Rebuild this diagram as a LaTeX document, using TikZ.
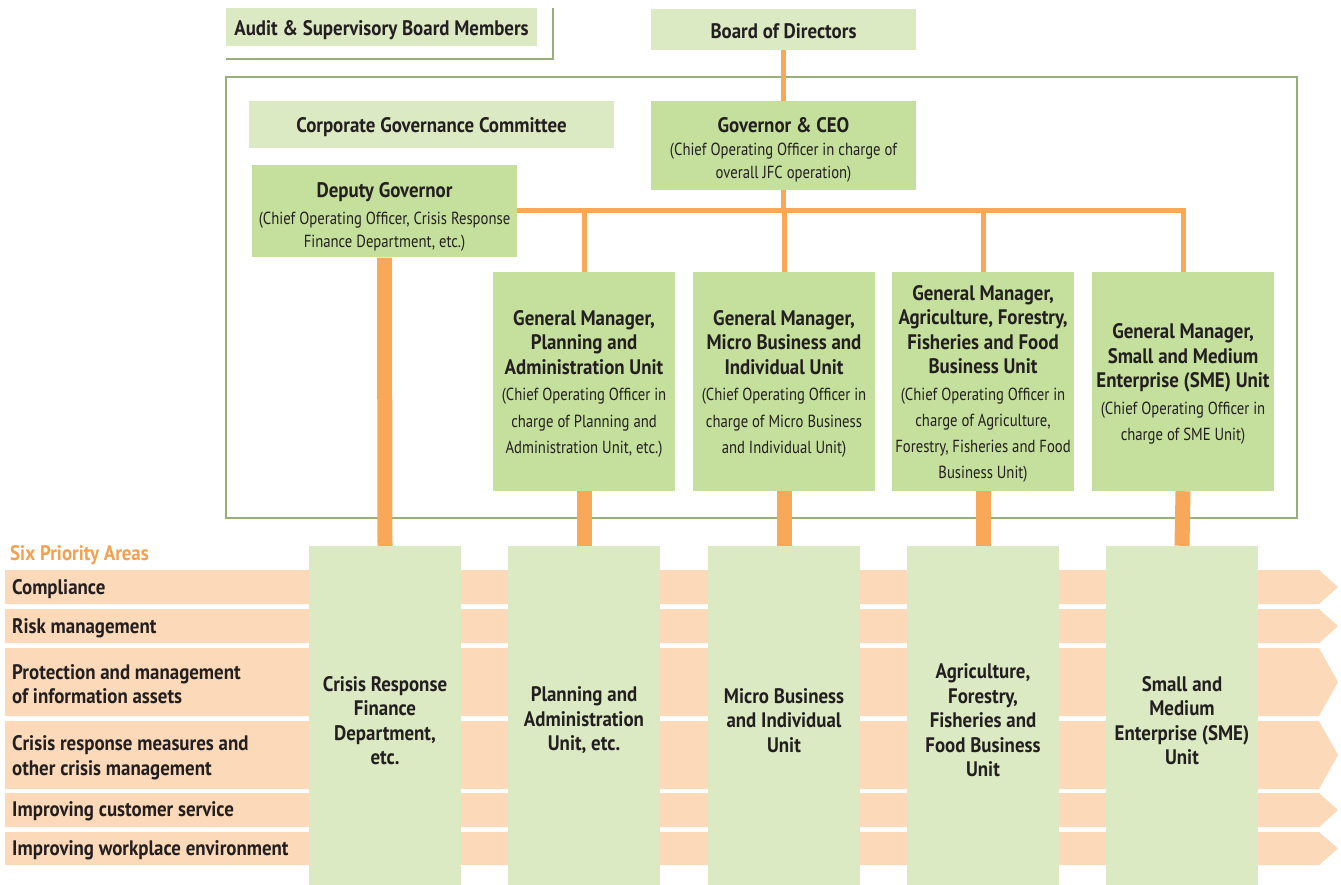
\documentclass[tikz,border=0pt]{standalone}
\usepackage{fontspec}
\setmainfont{PT Sans}[UprightFeatures={FakeStretch=0.84}, BoldFeatures={FakeStretch=0.9}]
\definecolor{lgreen}{HTML}{DCEAC3}
\definecolor{mgreen}{HTML}{C5DF9C}
\definecolor{ogreen}{HTML}{97AF78}
\definecolor{orng}{HTML}{F9A85A}
\definecolor{peach}{HTML}{FCD9B8}
\definecolor{txt}{HTML}{231F20}
\definecolor{otxt}{HTML}{F5A04F}
\newcommand{\bigb}{\fontsize{21}{24.5}\selectfont\bfseries}
\newcommand{\smallr}{\fontsize{17.5}{26.5}\selectfont\mdseries}
\begin{document}
\begin{tikzpicture}[x=1pt,y=-1pt,
  lbox/.style={fill=lgreen, inner sep=0pt},
  mbox/.style={fill=mgreen, inner sep=0pt},
  col/.style={fill=lgreen, inner sep=0pt, minimum width=152pt, minimum height=339pt},
  gm/.style={mbox, minimum width=182pt, minimum height=219pt},
  tlab/.style={inner sep=0pt, align=center, text=txt, font=\bigb},
  rowlab/.style={anchor=west, inner sep=0pt, align=left, text=txt, font=\bigb},
  bus/.style={draw=orng, line width=5pt, line join=miter},
  tconn/.style={draw=orng, line width=15pt},
  frame/.style={draw=ogreen, line width=2pt}
]
\useasboundingbox (0,0) rectangle (1341,885);

% outline frames
\draw[frame] (226,77) rectangle (1297,518);
\draw[frame] (226,59) -- (553,59) -- (553,8);

% priority bands
\foreach \a/\b in {570/604, 609/643, 648/716, 721/789, 793/827, 832/865}{
  \fill[peach] (5,\a) -- (1319,\a) -- (1338,{(\a+\b)/2}) -- (1319,\b) -- (5,\b) -- cycle;
}
\node[anchor=west, inner sep=0pt, text=otxt, font=\fontsize{21}{24}\selectfont\bfseries] (six) at (10,555) {Six Priority Areas};
\node[rowlab] (r1) at (12,589) {Compliance};
\node[rowlab] (r2) at (12,628) {Risk management};
\node[rowlab] (r3) at (12,684) {Protection and management\\of information assets};
\node[rowlab] (r4) at (12,757.5) {Crisis response measures and\\other crisis management};
\node[rowlab] (r5) at (12,811) {Improving customer service};
\node[rowlab] (r6) at (12,850) {Improving workplace environment};

% top boxes
\node[lbox, minimum width=311pt, minimum height=38pt] (audit) at (381.5,27) {};
\node[tlab] (auditT) at ([yshift=-3pt]audit.center) {Audit \& Supervisory Board Members};
\node[lbox, minimum width=265pt, minimum height=41pt] (board) at (783.5,29.5) {};
\node[tlab] (boardT) at ([yshift=-2pt]board.center) {Board of Directors};
\node[lbox, minimum width=365pt, minimum height=47pt] (corp) at (431.5,124.5) {};
\node[tlab] (corpT) at ([yshift=-3pt]corp.center) {Corporate Governance Committee};
\node[mbox, minimum width=265pt, minimum height=89pt] (gov) at (783.5,145.5) {};
\node[tlab] (govT) at ([yshift=-4pt]gov.center) {Governor \& CEO\\[-1pt] \smallr (Chief Operating Officer in charge of\\[-2pt] \smallr overall JFC operation)};
\node[mbox, minimum width=265pt, minimum height=92pt] (dep) at (384.5,211.5) {};
\node[tlab] (depT) at ([yshift=-5.5pt]dep.center) {Deputy Governor\\[2pt] \smallr (Chief Operating Officer, Crisis Response\\[-1pt] \smallr Finance Department, etc.)};

% general managers
\node[gm] (gmP) at (584,381.5) {};
\node[tlab] (gmPT) at ([yshift=-2.5pt]gmP.center) {General Manager,\\ Planning and\\ Administration Unit\\[2pt] \smallr (Chief Operating Officer in\\[2pt] \smallr charge of Planning and\\[2pt] \smallr Administration Unit, etc.)};
\node[gm] (gmM) at (784,381.5) {};
\node[tlab] (gmMT) at ([yshift=-2.5pt]gmM.center) {General Manager,\\ Micro Business and\\ Individual Unit\\[2pt] \smallr (Chief Operating Officer in\\[2pt] \smallr charge of Micro Business\\[2pt] \smallr and Individual Unit)};
\node[gm] (gmA) at (983,381.5) {};
\node[tlab] (gmAT) at ([yshift=-2pt]gmA.center) {General Manager,\\ Agriculture, Forestry,\\ Fisheries and Food\\ Business Unit\\[2pt] \smallr (Chief Operating Officer in\\[1.5pt] \smallr charge of Agriculture,\\[1.5pt] \smallr Forestry, Fisheries and Food\\[1.5pt] \smallr Business Unit)};
\node[gm] (gmS) at (1183,381.5) {};
\node[tlab] (gmST) at ([yshift=-2.5pt]gmS.center) {General Manager,\\ Small and Medium\\ Enterprise (SME) Unit\\[2pt] \smallr (Chief Operating Officer in\\[2pt] \smallr charge of SME Unit)};

% columns
\node[col] (cA) at (385,715.5) {};
\node[tlab] (cAT) at ([yshift=-5pt]cA.center) {Crisis Response\\ Finance\\ Department,\\ etc.};
\node[col] (cB) at (584,715.5) {};
\node[tlab] (cBT) at ([yshift=-5pt]cB.center) {Planning and\\ Administration\\ Unit, etc.};
\node[col] (cC) at (784,715.5) {};
\node[tlab] (cCT) at ([yshift=-5pt]cC.center) {Micro Business\\ and Individual\\ Unit};
\node[col] (cD) at (983,715.5) {};
\node[tlab] (cDT) at ([yshift=-5pt]cD.center) {Agriculture,\\ Forestry,\\ Fisheries and\\ Food Business\\ Unit};
\node[col] (cE) at (1182,715.5) {};
\node[tlab] (cET) at ([yshift=-5pt]cE.center) {Small and\\ Medium\\ Enterprise (SME)\\ Unit};

% connectors
\coordinate (busY) at (0,210.5);
\draw[bus] (board.south) -- (gov.north);
\draw[bus] (gov.south) -- (gov.south |- busY);
\draw[bus] (dep.east |- busY) -- (gmS.north |- busY) -- (gmS.north);
\draw[bus] (gmP.north |- busY) -- (gmP.north);
\draw[bus] (gmM.north |- busY) -- (gmM.north);
\draw[bus] (gmA.north |- busY) -- (gmA.north);

\draw[tconn] (dep.south) -- (cA.north);
\draw[tconn] (gmP.south) -- (cB.north);
\draw[tconn] (gmM.south) -- (cC.north);
\draw[tconn] (gmA.south) -- (cD.north);
\draw[tconn] (gmS.south) -- (cE.north);
\end{tikzpicture}
\end{document}
